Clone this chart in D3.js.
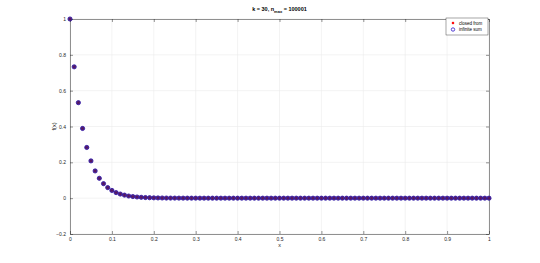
<!DOCTYPE html>
<html>
<head>
<meta charset="utf-8">
<script src="https://cdn.jsdelivr.net/npm/d3@7"></script>
<style>
  body { margin: 0; background: #fff; }
  svg { font-family: "Liberation Sans", Arial, sans-serif; }
</style>
</head>
<body>
<div id="chart"></div>
<script>
// sample positions
const xs = [0,0.01,0.02,0.03,0.04,0.05,0.06,0.07,0.08,0.09,
  0.1,0.11,0.12,0.13,0.14,0.15,0.16,0.17,0.18,0.19,
  0.2,0.21,0.22,0.23,0.24,0.25,0.26,0.27,0.28,0.29,
  0.3,0.31,0.32,0.33,0.34,0.35,0.36,0.37,0.38,0.39,
  0.4,0.41,0.42,0.43,0.44,0.45,0.46,0.47,0.48,0.49,
  0.5,0.51,0.52,0.53,0.54,0.55,0.56,0.57,0.58,0.59,
  0.6,0.61,0.62,0.63,0.64,0.65,0.66,0.67,0.68,0.69,
  0.7,0.71,0.72,0.73,0.74,0.75,0.76,0.77,0.78,0.79,
  0.8,0.81,0.82,0.83,0.84,0.85,0.86,0.87,0.88,0.89,
  0.9,0.91,0.92,0.93,0.94,0.95,0.96,0.97,0.98,0.99,1];

// values
const closedForm = [1,0.733,0.533,0.389,0.283,0.208,0.152,0.111,0.081,0.059,
  0.043,0.031,0.023,0.017,0.012,0.009,0.0065,0.0048,0.0035,0.0025,
  0.0018,0.0013,0.001,0.0007,0.0005,0.0004,0.0003,0.0002,0.0002,0.0001,
  0.0001,0,0,0,0,0,0,0,0,0, 0,0,0,0,0,0,0,0,0,0,
  0,0,0,0,0,0,0,0,0,0, 0,0,0,0,0,0,0,0,0,0,
  0,0,0,0,0,0,0,0,0,0, 0,0,0,0,0,0,0,0,0,0,
  0,0,0,0,0,0,0,0,0,0, 0];
const infiniteSum = [1,0.733,0.533,0.389,0.283,0.208,0.152,0.111,0.081,0.059,
  0.043,0.031,0.023,0.017,0.012,0.009,0.0065,0.0048,0.0035,0.0025,
  0.0018,0.0013,0.001,0.0007,0.0005,0.0004,0.0003,0.0002,0.0002,0.0001,
  0.0001,0,0,0,0,0,0,0,0,0, 0,0,0,0,0,0,0,0,0,0,
  0,0,0,0,0,0,0,0,0,0, 0,0,0,0,0,0,0,0,0,0,
  0,0,0,0,0,0,0,0,0,0, 0,0,0,0,0,0,0,0,0,0,
  0,0,0,0,0,0,0,0,0,0, 0];

const xTicks = [0,0.1,0.2,0.3,0.4,0.5,0.6,0.7,0.8,0.9,1];
const yTicks = [-0.2,0,0.2,0.4,0.6,0.8,1];
const seriesNames = ["closed from", "infinite sum"];

const W = 540, H = 263;
const margin = { top: 19, right: 51, bottom: 29, left: 70 };
const width = W - margin.left - margin.right,
      height = H - margin.top - margin.bottom;

const svg = d3.select("#chart").append("svg")
    .attr("width", W)
    .attr("height", H);

const g = svg.append("g")
    .attr("transform", `translate(${margin.left},${margin.top})`);

const x = d3.scaleLinear().domain([0, 1]).range([0, width]);
const y = d3.scaleLinear().domain([-0.2, 1]).range([height, 0]);

// grid
g.append("g").selectAll("line").data(xTicks).join("line")
    .attr("x1", d => x(d)).attr("x2", d => x(d))
    .attr("y1", 0).attr("y2", height)
    .attr("stroke", "#ebebeb").attr("stroke-width", 0.6);
g.append("g").selectAll("line").data(yTicks).join("line")
    .attr("y1", d => y(d)).attr("y2", d => y(d))
    .attr("x1", 0).attr("x2", width)
    .attr("stroke", "#ebebeb").attr("stroke-width", 0.6);

// axes (matlab style: inward ticks, box on)
const fmt = d => d === 0 ? "0" : d === 1 ? "1" : d3.format(".1f")(d);
g.append("g")
    .attr("transform", `translate(0,${height})`)
    .call(d3.axisBottom(x).tickValues(xTicks).tickFormat(fmt).tickSizeInner(-3).tickSizeOuter(0).tickPadding(3));
g.append("g")
    .call(d3.axisLeft(y).tickValues(yTicks).tickFormat(fmt).tickSizeInner(-3).tickSizeOuter(0).tickPadding(4));
g.append("g")
    .call(d3.axisTop(x).tickValues(xTicks).tickFormat("").tickSizeInner(-3).tickSizeOuter(0));
g.append("g")
    .attr("transform", `translate(${width},0)`)
    .call(d3.axisRight(y).tickValues(yTicks).tickFormat("").tickSizeInner(-3).tickSizeOuter(0));

g.selectAll(".domain").attr("stroke", "#262626").attr("stroke-width", 0.5);
g.selectAll(".tick line").attr("stroke", "#262626").attr("stroke-width", 0.5);
g.selectAll(".tick text").attr("fill", "#262626").style("font-size", "5px");

// markers: red asterisks under blue circles
function star(sel, r) {
    sel.append("path")
        .attr("d", `M${-r},0H${r}M0,${-r}V${r}M${-r*0.7},${-r*0.7}L${r*0.7},${r*0.7}M${-r*0.7},${r*0.7}L${r*0.7},${-r*0.7}`)
        .attr("stroke", "#ff0000").attr("stroke-width", 0.9).attr("fill", "none");
}

const pts = g.append("g");
xs.forEach((xv, i) => {
    const p = pts.append("g").attr("transform", `translate(${x(xv)},${y(closedForm[i])})`);
    star(p, 1.8);
});
pts.selectAll("circle").data(xs).join("circle")
    .attr("cx", d => x(d))
    .attr("cy", (d, i) => y(infiniteSum[i]))
    .attr("r", 2.1)
    .attr("fill", "rgba(45,25,120,0.8)")
    .attr("stroke", "#2a12a8")
    .attr("stroke-width", 0.8);

// title and labels
svg.append("text")
    .attr("x", margin.left + width / 2).attr("y", 11)
    .attr("text-anchor", "middle")
    .style("font-size", "5.5px").style("font-weight", "bold").attr("fill", "#000")
    .html('k = 30, n<tspan dy="1.5" font-size="4px">max</tspan><tspan dy="-1.5"> = 100001</tspan>');

svg.append("text")
    .attr("x", margin.left + width / 2).attr("y", H - 16)
    .attr("text-anchor", "middle")
    .style("font-size", "5.5px").attr("fill", "#262626")
    .text("x");

svg.append("text")
    .attr("transform", `translate(56,${margin.top + height / 2}) rotate(-90)`)
    .attr("text-anchor", "middle")
    .style("font-size", "5.5px").attr("fill", "#262626")
    .text("f(x)");

// legend
const lg = svg.append("g").attr("transform", `translate(${margin.left + width - 43},${margin.top - 1})`);
lg.append("rect")
    .attr("width", 42).attr("height", 17)
    .attr("fill", "#fff").attr("stroke", "#262626").attr("stroke-width", 0.4);
seriesNames.forEach((name, i) => {
    const row = lg.append("g").attr("transform", `translate(7,${5 + i * 6.5})`);
    if (i === 0) {
        star(row, 1.3);
    } else {
        row.append("circle").attr("r", 1.7)
            .attr("fill", "none").attr("stroke", "#2a10c8").attr("stroke-width", 0.8);
    }
    row.append("text")
        .attr("x", 6).attr("y", 1.6)
        .style("font-size", "4.5px").attr("fill", "#000")
        .text(name);
});
</script>
</body>
</html>
